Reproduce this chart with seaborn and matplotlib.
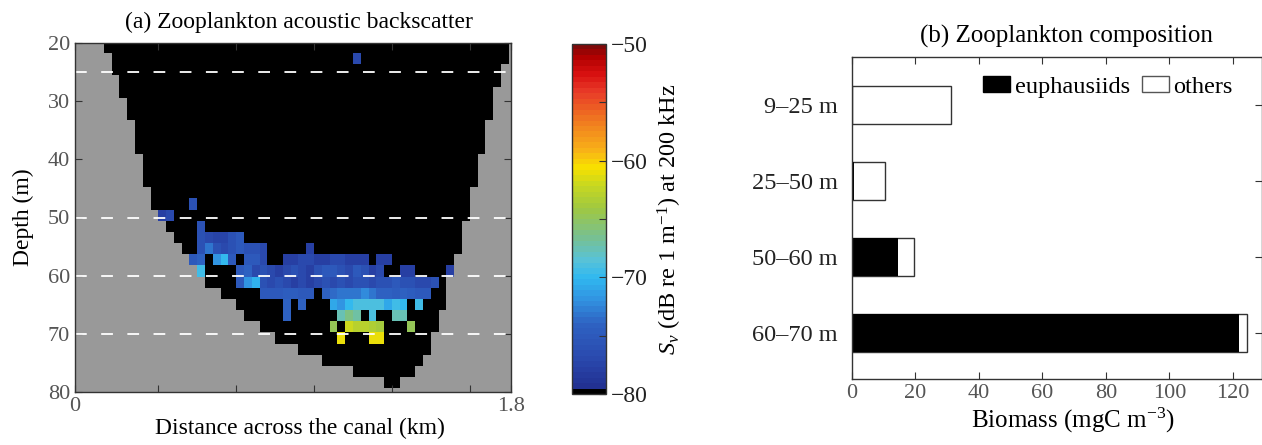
import numpy as np
import pandas as pd
import seaborn as sns
import matplotlib.pyplot as plt
from matplotlib.colors import ListedColormap, LinearSegmentedColormap
from matplotlib.patches import Patch
from matplotlib.ticker import FixedLocator

plt.rcParams['font.family'] = ['Liberation Serif', 'DejaVu Serif']
plt.rcParams['mathtext.fontset'] = 'custom'
plt.rcParams['mathtext.rm'] = 'Liberation Serif'
plt.rcParams['mathtext.it'] = 'Liberation Serif:italic'

# --- echogram grid (57 distance bins x 31 depth bins) ---
col_w = 1.8 / 56        # km, width of a distance bin
row_h = 1.925           # m, height of a depth bin
depth_top = 19.75       # m, top edge of the first depth bin
dist_first = -0.3 * col_w

# seafloor depth (m) under each distance bin; < 20 m means no water in the window
seafloor = [19.5, 19.5, 19.5, 19.5, 21.7, 25.5, 29.4, 33.2, 39.0, 44.8,
            48.6, 50.6, 52.5, 54.4, 56.3, 58.3, 60.2, 62.1, 62.1, 64.0,
            64.0, 66.0, 67.9, 67.9, 69.8, 69.8, 71.7, 71.7, 71.7, 73.7,
            73.7, 73.7, 75.6, 75.6, 75.6, 75.6, 77.5, 77.5, 77.5, 77.5,
            79.4, 79.4, 77.5, 77.5, 75.6, 73.7, 69.8, 66.0, 60.2, 56.3,
            50.6, 44.8, 39.0, 33.2, 27.5, 23.6, 19.5]

# echoes above the -80 dB floor: depth bin, first distance bin, Sv values (None = no echo)
N = None
patch_row = [1, 14, 15, 16, 17, 18, 19, 20, 21, 22, 23, 24, 25, 26]
patch_col = [36, 15, 11, 16, 16, 16, 15, 16, 21, 24, 27, 27, 33, 34]
patch_sv = [
    [-77],
    [-76],
    [-78, -77],
    [-76],
    [-76, -77, -77.5, -77.5, -76, -75],
    [-76, -73, -76, -77, -76, -75, -76, -76, -77, N, N, N, N, N, -78],
    [-75, -74, N, -72, -70, -75, N, -75, -75, -77, N, N, -78, -78, -77, -77,
     -78, -78, -77, -77, -78, -78, -78, N, -78, -78],
    [-69.5, N, N, N, N, -75, -74, -77, -76, -77, -78, -77, -76, -77, -78, -76,
     -75, -75, -76, -77, -75, -76, -78, -77, N, N, -78, -78, N, N, N, N, -78],
    [-75, -72, -70.5, -76, -77, -76, -77, -78, -77, -78, -77, -76, -77, -76,
     -77, -76, -76, -77, -76, -76, -75, -76, -76, -77, -77, -76],
    [-75, -75, -75, -74.5, -74.5, -75, -75, N, -74, -73.5, -73, -73, -73,
     -72.5, -73, -74, -74, -74.5, -74, -74.5, -75, -75],
    [-74, N, -74, N, N, N, -71, -72, -70, -69, -69, -69, -69, -71, -69.5, -70,
     N, -69.5],
    [-74, N, N, N, N, N, N, -67.5, -66, -67, N, -69, N, N, -67.5, -67.5],
    [-65, N, -62, -63, -63, -63.5, -64, N, N, N, -65],
    [-61, N, N, N, -61, -61],
]

dashed_depths = [25, 50, 60, 70]
depth_ticks = [20, 30, 40, 50, 60, 70, 80]
dist_ticks = [0, 0.344, 0.665, 0.987, 1.308, 1.630, 1.8]
dist_ticklabels = ['0', '', '', '', '', '', '1.8']

# --- zooplankton composition ---
layers = ['9–25 m', '25–50 m', '50–60 m', '60–70 m']
euphausiids = [0, 0.8, 14.6, 121.8]
others = [31.2, 9.8, 4.9, 2.6]

# build the Sv grid
n_rows, n_cols = 31, len(seafloor)
sv = np.full((n_rows, n_cols), -90.0)
for r, c0, vals in zip(patch_row, patch_col, patch_sv):
    for k, v in enumerate(vals):
        if v is not None:
            sv[r, c0 + k] = v
depth_mid = depth_top + row_h * (np.arange(n_rows) + 0.5)
mask = depth_mid[:, None] > np.array(seafloor)[None, :]


def x_idx(km):
    return (np.asarray(km) - dist_first) / col_w


def y_idx(m):
    return (np.asarray(m) - depth_top) / row_h


# colour map: 64 levels, first one black (matlab style)
anchors = [(-80, '#1f2a8a'), (-77, '#2a48ad'), (-74, '#2e62c2'), (-72, '#3190e0'),
           (-70, '#30b8f0'), (-68.5, '#58c2d8'), (-66.5, '#78c090'), (-64, '#a0c840'),
           (-62, '#c8d820'), (-60.5, '#f8e000'), (-59, '#f8b018'), (-56.5, '#f07a20'),
           (-54, '#e83a28'), (-52.5, '#d81010'), (-51, '#b00000'), (-50, '#7a0a0a')]
smooth = LinearSegmentedColormap.from_list(
    'sv', [((v + 80) / 30, c) for v, c in anchors])
levels = smooth((np.arange(64) + 0.5) / 64)
levels[0] = [0, 0, 0, 1]
cmap = ListedColormap(levels)
cmap.set_under('black')

fig = plt.figure(figsize=(12.62, 4.45), dpi=100)
ax = fig.add_axes([75 / 1262, 1 - 391.7 / 445, 436 / 1262, 348.4 / 445])
cax = fig.add_axes([571.5 / 1262, 1 - 394 / 445, 34.2 / 1262, 350 / 445])
axb = fig.add_axes([851.7 / 1262, 1 - 379 / 445, 409.8 / 1262, 322.3 / 445])

# (a) echogram
sns.heatmap(sv, mask=mask, cmap=cmap, vmin=-80, vmax=-50, ax=ax, cbar_ax=cax,
            xticklabels=False, yticklabels=False)
ax.set_facecolor('#999999')
ax.set_xlim(x_idx(0), x_idx(1.8))
ax.set_ylim(y_idx(80), y_idx(20))
for d in dashed_depths:
    ax.axhline(y_idx(d), color='white', lw=1.3, dashes=(6.5, 8))
for s in ax.spines.values():
    s.set_visible(True)
    s.set_linewidth(1)
    s.set_color('#333333')
ax.set_yticks(y_idx(depth_ticks))
ax.set_yticklabels([str(d) for d in depth_ticks], rotation=0)
ax.set_xticks(x_idx(dist_ticks))
ax.set_xticklabels(dist_ticklabels, rotation=0)
ax.tick_params(direction='in', length=5, width=0.8, color='#333333',
               top=True, right=True, labelsize=16, labelcolor='#555555')
ax.set_title('(a) Zooplankton acoustic backscatter', fontsize=17, pad=11, x=0.514)
ax.set_xlabel('Distance across the canal (km)', fontsize=17, labelpad=2, x=0.516)
ax.set_ylabel('Depth (m)', fontsize=17, labelpad=10)

cbar = ax.collections[0].colorbar
cbar.outline.set_linewidth(1)
cbar.outline.set_edgecolor('#333333')
cbar.set_ticks([-80, -70, -60, -50])
cbar.ax.yaxis.set_minor_locator(FixedLocator([-75, -65, -55]))
cbar.ax.tick_params(which='both', direction='in', length=5, width=0.8,
                    color='#333333', labelsize=17, labelcolor='#222222')
cbar.set_label(r'$S_v$ (dB re 1 m$^{-1}$) at 200 kHz', fontsize=17.5, labelpad=6)

# (b) stacked horizontal bars
comp = pd.DataFrame({'layer': layers, 'euphausiids': euphausiids,
                     'total': np.add(euphausiids, others)})
sns.barplot(data=comp, x='total', y='layer', orient='h', color='white',
            saturation=1, edgecolor='#333333', linewidth=1, width=0.5, ax=axb)
sns.barplot(data=comp, x='euphausiids', y='layer', orient='h', color='black',
            saturation=1, linewidth=0, width=0.5, ax=axb)
axb.set_xlim(0, 129)
axb.set_ylim(3.6, -0.64)
axb.set_xticks(range(0, 121, 20))
for s in axb.spines.values():
    s.set_visible(True)
    s.set_linewidth(1)
    s.set_color('#333333')
axb.tick_params(axis='x', direction='in', length=5, width=0.8, color='#333333',
                top=True, labelsize=16, labelcolor='#555555')
axb.tick_params(axis='y', direction='in', length=5, width=0.8, color='#333333',
                left=False, right=True, labelsize=17.5, labelcolor='#222222', pad=10)
axb.set_ylabel('')
axb.set_xlabel('Biomass (mgC m$^{-3}$)', fontsize=18, labelpad=2, x=0.54)
axb.set_title('(b) Zooplankton composition', fontsize=18, pad=10, x=0.525)
handles = [Patch(facecolor='black', edgecolor='black', lw=1),
           Patch(facecolor='white', edgecolor='#555555', lw=1)]
axb.legend(handles, ['euphausiids', 'others'], ncol=2, frameon=False,
           loc='center right', bbox_to_anchor=(0.93, 0.906), fontsize=17.5,
           handlelength=1.1, handleheight=0.6, handletextpad=0.2,
           columnspacing=0.5, borderaxespad=0, borderpad=0)

fig.savefig('out.png', dpi=100)
